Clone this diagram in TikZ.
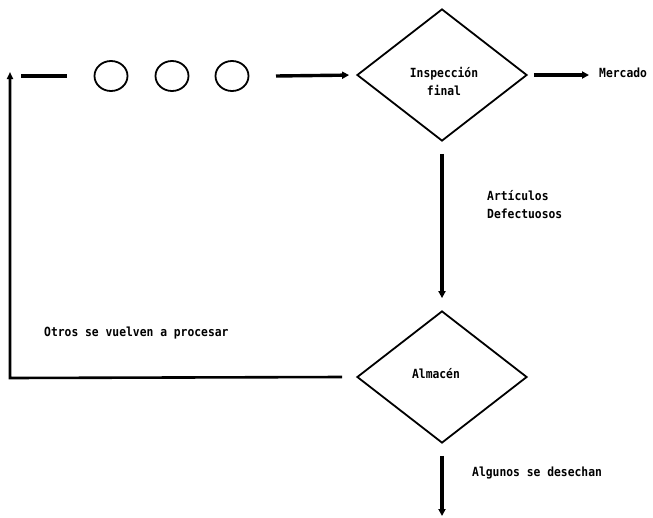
\documentclass[tikz,border=0pt]{standalone}
\usepackage{fontspec}
\newfontfamily\lblfont[FakeStretch=0.9]{DejaVu Sans Mono Bold}
\usetikzlibrary{shapes.geometric,arrows.meta}
\tikzset{
  lbl/.style={font=\lblfont\fontsize{12.6}{18}\selectfont, inner sep=0pt},
  dia/.style={draw, line width=1.8pt, diamond, aspect=1.29, minimum width=170pt, minimum height=132pt, inner sep=0pt},
  ring/.style={draw, line width=1.8pt, ellipse, minimum width=33pt, minimum height=30pt, inner sep=0pt},
  flow/.style={line width=3.4pt, -{Triangle[length=7pt,width=7pt]}},
  bar/.style={line width=3.8pt},
  thin/.style={line width=2.6pt}
}
\begin{document}
\begin{tikzpicture}[x=1pt,y=-1pt]
\useasboundingbox[fill=white] (0,0) rectangle (653,517);
% diamonds
\node[dia] (insp) at (442,75) {};
\node[dia] (alm) at (442,377) {};
\node[lbl, align=center] (tinsp) at (444,81) {Inspección\\final};
\node[lbl] (talm) at (436,374) {Almacén};
% top row
\coordinate (d1) at (21,76);
\coordinate (d2) at (67,76);
\draw[bar] (d1) -- (d2);
\node[ring] (c1) at (111,76) {};
\node[ring] (c2) at (172,76) {};
\node[ring] (c3) at (232,76) {};
\coordinate (a1) at (276,76);
\draw[flow, shorten >=7pt] (a1) -- (insp.west);
% Mercado
\node[lbl, anchor=west] (merc) at (599,73) {Mercado};
\draw[flow, shorten <=6pt, shorten >=10pt] (insp.east) -- (merc.west |- insp.east);
% Defective
\draw[flow, shorten <=12pt, shorten >=12pt] (insp.south) -- (alm.north);
\node[lbl, anchor=west, align=left] (tdef) at (487,205) {Artículos\\Defectuosos};
% reprocess loop
\coordinate (corner) at (10,378);
\coordinate (top) at (10,72);
\draw[thin, -{Triangle[length=7pt,width=6pt]}, line join=miter] ([xshift=-14pt]alm.west) -- (corner) -- (top);
\node[lbl, anchor=west] (totros) at (44,333) {Otros se vuelven a procesar};
% discard
\coordinate (end) at (442,516);
\draw[flow, shorten <=12pt] (alm.south) -- (end);
\node[lbl, anchor=west] (talg) at (472,473) {Algunos se desechan};
\end{tikzpicture}
\end{document}
